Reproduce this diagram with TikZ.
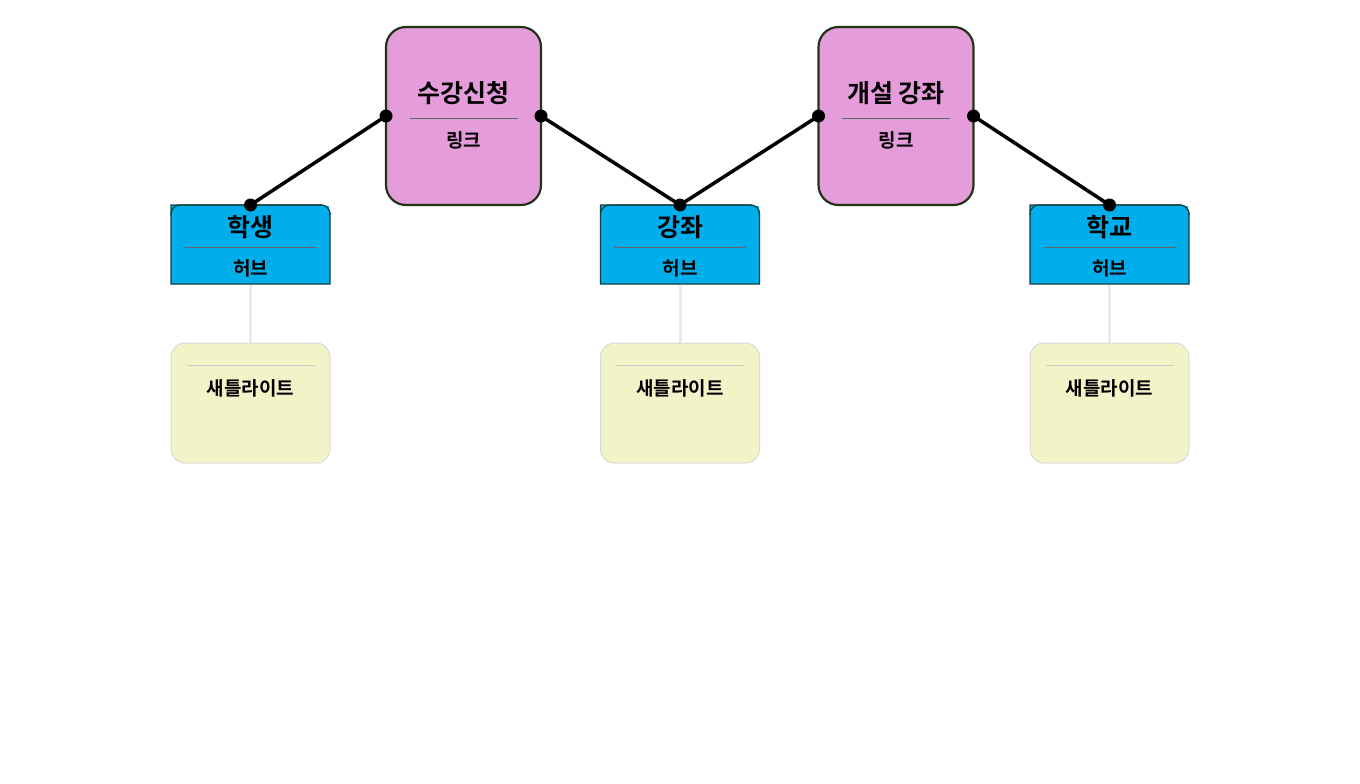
\documentclass[tikz,border=0pt]{standalone}
\usepackage{fontspec}
\setmainfont{Noto Sans CJK KR}[BoldFont={Noto Sans CJK KR Bold}]
\definecolor{linkc}{HTML}{E59CDB}
\definecolor{linkd}{HTML}{223318}
\definecolor{hubc}{HTML}{00AEEC}
\definecolor{hubd}{HTML}{124040}
\definecolor{satc}{HTML}{F3F3C8}
\begin{document}
\begin{tikzpicture}[x=1pt,y=-1pt,
 link/.style={draw=linkd,line width=2.2pt,fill=linkc,rounded corners=20pt},
 hub/.style={draw=hubd,line width=1.2pt,fill=hubc},
 sat/.style={draw=black!15,line width=1pt,fill=satc,rounded corners=14pt},
 ttl/.style={font=\bfseries\fontsize{25}{28}\selectfont},
 sub/.style={font=\bfseries\fontsize{19}{22}\selectfont},
 sep/.style={black!60,line width=0.4pt},
 conn/.style={line width=3.5pt},
 dot/.style={circle,fill=black,inner sep=0pt,minimum size=13pt},
 tie/.style={black!8,line width=3pt}]
\useasboundingbox[fill=white] (0,0) rectangle (1360,784);
% links
\foreach \n/\x/\t in {L1/463.5/수강신청, L2/896/개설 강좌}{
 \draw[link] (\x-77.5,27) rectangle (\x+77.5,205);
 \node[ttl] (\n t) at (\x,93) {\t};
 \draw[sep] (\x-54,118) -- (\x+54,118);
 \node[sub] (\n s) at (\x,140) {링크};
 \coordinate (\n l) at (\x-77.5,116);
 \coordinate (\n r) at (\x+77.5,116);
}
% hubs & satellites
\foreach \n/\x/\t in {H1/250.5/학생, H2/680/강좌, H3/1109.5/학교}{
 \draw[tie] (\x,285) -- (\x,343);
 \draw[hub] (\x-79.5,284) -- (\x-79.5,205) [rounded corners=9pt] -- (\x+79.5,205) [sharp corners] -- (\x+79.5,284) -- cycle;
 \fill[hubc] (\x-78.9,206) -- (\x+78.9,206) -- (\x+78.9,215) -- (\x-78.9,215) -- cycle;
 \draw[hub,fill=none] (\x-79.5,215) -- (\x-79.5,214) arc[start angle=180,end angle=90,radius=9pt] -- (\x+70.5,205) arc[start angle=90,end angle=0,radius=9pt] -- (\x+79.5,215);
 \node[ttl] (\n t) at (\x,227) {\t};
 \draw[sep] (\x-66,247) -- (\x+66,247);
 \node[sub] (\n s) at (\x,268) {허브};
 \coordinate (\n) at (\x,205);
 \draw[sat] (\x-79.5,343) rectangle (\x+79.5,463);
 \draw[black!20,line width=0.4pt] (\x-64,365) -- (\x+64,365);
 \node[sub] (\n sat) at (\x,388) {새틀라이트};
}
\draw[conn] (H1) -- (L1l);
\draw[conn] (L1r) -- (H2);
\draw[conn] (H2) -- (L2l);
\draw[conn] (L2r) -- (H3);
\foreach \c in {H1,H2,H3,L1l,L1r,L2l,L2r} \node[dot] at (\c) {};
\end{tikzpicture}
\end{document}
